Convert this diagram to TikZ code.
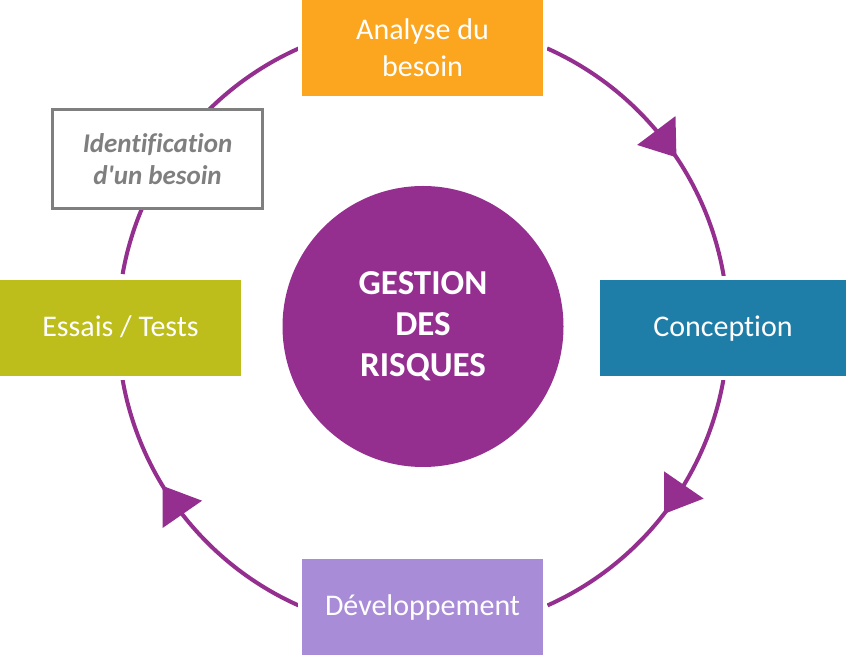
\documentclass[tikz,border=0pt]{standalone}
\usepackage{fontspec}
\setmainfont{Carlito}[Ligatures=NoCommon]
\newfontfamily\identfont{Carlito}[Ligatures={TeXOff,NoCommon}]
\usetikzlibrary{calc}
\definecolor{cana}{HTML}{FBA61E}
\definecolor{cconc}{HTML}{1F7EA8}
\definecolor{cdev}{HTML}{A98CD7}
\definecolor{cess}{HTML}{BDBE1B}
\definecolor{cpur}{HTML}{942F90}
\definecolor{cgray}{HTML}{7F7F7F}
\begin{document}
\begin{tikzpicture}[x=1pt,y=1pt,
  phase/.style={rectangle, inner sep=0pt, text=white, align=center,
    font=\fontsize{30}{37}\selectfont,
    preaction={draw=white, line width=8pt}},
  oneline/.style={text height=18pt, text depth=0pt},
  ring/.style={draw=cpur, line width=4pt},
  tri/.style={fill=cpur}]
\useasboundingbox (0,0) rectangle (846,655);
\coordinate (C) at (423,328);
% ring segments
\draw[ring] ($(C)+(66:305)$) arc[start angle=66, end angle=9.6, radius=305];
\draw[ring] ($(C)+(-10:305)$) arc[start angle=-10, end angle=-65.9, radius=305];
\draw[ring] ($(C)+(245.9:305)$) arc[start angle=245.9, end angle=190, radius=305];
\draw[ring] ($(C)+(170:305)$) arc[start angle=170, end angle=114, radius=305];
% boxes
\node[phase, fill=cana, minimum width=241pt, minimum height=96pt] (ana) at (422.5,607) {Analyse du\\besoin};
\node[phase, oneline, fill=cconc, minimum width=246pt, minimum height=96pt] (conc) at (723,327) {Conception};
\node[phase, oneline, fill=cdev, minimum width=241pt, minimum height=96pt] (dev) at (422.5,48) {Développement};
\node[phase, oneline, fill=cess, minimum width=241pt, minimum height=96pt] (ess) at (120.5,327) {Essais / Tests};
\node[rectangle, draw=cgray, line width=3pt, fill=white, minimum width=210pt,
  minimum height=99pt, inner sep=0pt, text=cgray, align=center,
  font=\identfont\bfseries\itshape\fontsize{27}{32}\selectfont] (idf) at (157.5,496) {Identification\\d'un besoin};
\node[circle, fill=cpur, minimum size=281pt, inner sep=0pt, text=white, align=center,
  font=\bfseries\fontsize{35}{41}\selectfont] (risk) at (423,328.5) {GESTION\\DES\\RISQUES};
% arrowheads
\coordinate (b1) at ($(C)+(40.1:305)$);  \coordinate (t1) at ($(C)+(33.8:305)$);
\coordinate (b2) at ($(C)+(-31.2:305)$); \coordinate (t2) at ($(C)+(-37.8:305)$);
\coordinate (b3) at ($(C)+(217.9:305)$); \coordinate (t3) at ($(C)+(211.4:305)$);
\fill[tri] ($(b1)!24pt!90:(t1)$) -- (t1) -- ($(b1)!24pt!-90:(t1)$) -- cycle;
\fill[tri] ($(b2)!24pt!90:(t2)$) -- (t2) -- ($(b2)!24pt!-90:(t2)$) -- cycle;
\fill[tri] ($(b3)!24pt!90:(t3)$) -- (t3) -- ($(b3)!24pt!-90:(t3)$) -- cycle;
\end{tikzpicture}
\end{document}
